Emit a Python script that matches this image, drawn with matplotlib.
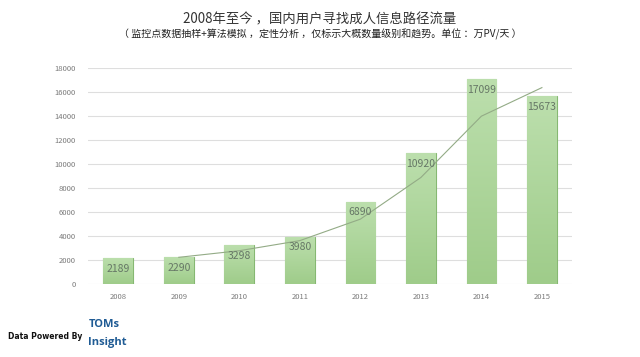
import numpy as np
import matplotlib.pyplot as plt
from matplotlib.colors import LinearSegmentedColormap

plt.rcParams['font.family'] = ['Noto Sans CJK SC', 'DejaVu Sans']

years = ['2008', '2009', '2010', '2011', '2012', '2013', '2014', '2015']
traffic = [2189, 2290, 3298, 3980, 6890, 10920, 17099, 15673]
# trend line (starts at 2009)
trend_years = ['2009', '2010', '2011', '2012', '2013', '2014', '2015']
trend_vals = [2250, 2800, 3640, 5430, 8900, 14010, 16390]
yticks = [0, 2000, 4000, 6000, 8000, 10000, 12000, 14000, 16000, 18000]

fig = plt.figure(figsize=(6.4, 3.57), dpi=100)
ax = fig.add_axes([0.1375, 0.2036, 0.7565, 0.6051])

x = np.arange(len(years))
bars = ax.bar(x, traffic, width=0.49, color='#acd49a', edgecolor='#86b872',
              linewidth=0.8, zorder=2)

# vertical gradient in each bar
cmap = LinearSegmentedColormap.from_list('g', ['#9fcc8a', '#bcdfad'])
grad = np.linspace(0, 1, 100).reshape(-1, 1)
for b in bars:
    x0, y0 = b.get_x(), b.get_y()
    im = ax.imshow(grad, cmap=cmap, origin='lower', aspect='auto',
                   extent=[x0, x0 + b.get_width(), y0, y0 + b.get_height()],
                   zorder=2.5)
    im.set_clip_path(b)

trend_x = [years.index(t) for t in trend_years]
ax.plot(trend_x, trend_vals, color='#93ab86', linewidth=0.8, zorder=4)

for xi, v in zip(x, traffic):
    ax.text(xi, v - 900, str(v), ha='center', va='center', fontsize=7.5,
            color='#667766', zorder=5)

ax.set_xlim(-0.5, 7.5)
ax.set_ylim(0, 18000)
ax.set_xticks(x)
ax.set_xticklabels(years)
ax.set_yticks(yticks)
ax.tick_params(axis='both', length=0, labelsize=5.5, colors='#7a7a7a')
ax.tick_params(axis='y', pad=9)
ax.tick_params(axis='x', pad=6)
ax.grid(axis='y', color='#dedede', linewidth=0.8, zorder=0)
ax.set_axisbelow(True)
for s in ax.spines.values():
    s.set_visible(False)

fig.text(0.5, 0.945, '2008年至今 ，国内用户寻找成人信息路径流量', ha='center',
         va='center', fontsize=9.6, color='#333333')
fig.text(0.5, 0.905, '（ 监控点数据抽样+算法模拟 ，定性分析 ，仅标示大概数量级别和趋势。单位 ：万PV/天 ）',
         ha='center', va='center', fontsize=7.2, color='#222222')

fig.text(0.013, 0.058, 'Data Powered By', ha='left', va='center',
         fontsize=5.5, fontweight='bold', color='#111111', family='DejaVu Sans')
fig.text(0.138, 0.09, 'TOMs', ha='left', va='center', fontsize=8,
         fontweight='bold', color='#1f5b94', family='Open Sans')
fig.text(0.138, 0.042, 'Insight', ha='left', va='center', fontsize=8,
         fontweight='bold', color='#1f5b94', family='Open Sans')

fig.savefig('out.png', dpi=100)
